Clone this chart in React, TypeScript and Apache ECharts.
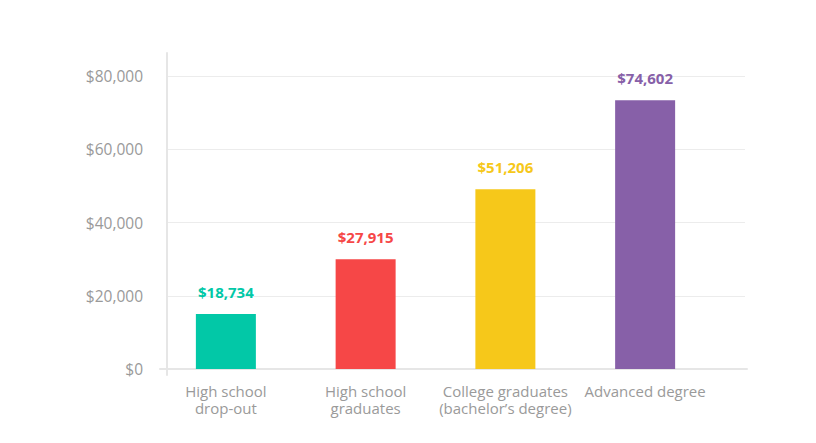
import React, { useEffect, useRef } from "react";
import * as echarts from "echarts";

const categories = [
  "High school\ndrop-out",
  "High school\ngraduates",
  "College graduates\n(bachelor\u2019s degree)",
  "Advanced degree",
];
const barValues = [15000, 30000, 49100, 73400];
const valueLabels = ["$18,734", "$27,915", "$51,206", "$74,602"];
const barColors = ["#02c8a7", "#f64747", "#f6c81a", "#8760a8"];
const yTicks = [0, 20000, 40000, 60000, 80000];

const fmtMoney = (v: number) => "$" + v.toLocaleString("en-US");

export default function App() {
  const ref = useRef<HTMLDivElement>(null);
  useEffect(() => {
    if (!ref.current) return;
    const chart = echarts.init(ref.current, undefined, { renderer: "svg" });
    const font = "'Open Sans', 'Noto Sans', sans-serif";
    const yMin = yTicks[0];
    const yMax = yTicks[yTicks.length - 1];
    const interval = yTicks[1] - yTicks[0];
    chart.setOption({
      animation: false,
      backgroundColor: "#ffffff",
      textStyle: { fontFamily: font },
      grid: [
        { left: 156, right: 101, top: 76, bottom: 74 },
        { left: 168, right: 71, top: 76, bottom: 74 },
        { left: 167, right: 71, top: 53, bottom: 68 },
        { left: 160, right: 69, top: 76, bottom: 74 },
      ],
      xAxis: [
        {
          gridIndex: 0,
          type: "category",
          data: categories,
          axisLine: { show: false },
          axisTick: { show: false },
          axisLabel: {
            color: "#9a9a9a",
            fontSize: 15,
            lineHeight: 17,
            margin: 13,
            fontFamily: font,
            interval: 0,
          },
        },
        { gridIndex: 1, type: "value", show: false },
        { gridIndex: 2, type: "value", show: false },
        {
          gridIndex: 3,
          type: "value",
          axisLine: { show: true, lineStyle: { color: "#e6e6e6", width: 2 } },
          axisTick: { show: false },
          axisLabel: { show: false },
          splitLine: { show: false },
        },
      ],
      yAxis: [
        { gridIndex: 0, type: "value", min: yMin, max: yMax, show: false },
        {
          gridIndex: 1,
          type: "value",
          min: yMin,
          max: yMax,
          interval,
          axisLine: { show: false },
          axisTick: { show: false },
          axisLabel: {
            color: "#9a9a9a",
            fontSize: 15.5,
            margin: 25,
            fontFamily: font,
            formatter: (v: number) => fmtMoney(v),
          },
          splitLine: { show: true, lineStyle: { color: "#ececec", width: 1 } },
        },
        {
          gridIndex: 2,
          type: "value",
          axisLine: { show: true, lineStyle: { color: "#e6e6e6", width: 2 } },
          axisTick: { show: false },
          axisLabel: { show: false },
          splitLine: { show: false },
        },
        { gridIndex: 3, type: "value", show: false },
      ],
      series: [
        {
          type: "bar",
          xAxisIndex: 0,
          yAxisIndex: 0,
          barWidth: 60,
          data: barValues.map((v, i) => ({
            value: v,
            itemStyle: { color: barColors[i] },
            label: {
              show: true,
              position: "top",
              distance: 14.5,
              formatter: valueLabels[i],
              color: barColors[i],
              fontSize: 15,
              fontWeight: "bold",
              fontFamily: font,
            },
          })),
        },
      ],
    });
    return () => chart.dispose();
  }, []);
  return (
    <div
      ref={ref}
      style={{ position: "fixed", left: 0, top: 0, width: 816, height: 443 }}
    />
  );
}
